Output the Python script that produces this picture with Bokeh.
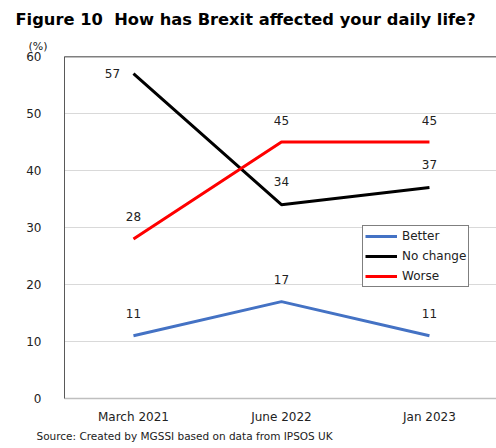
from bokeh.plotting import figure
from bokeh.models import Range1d, Span, Legend, LegendItem, FixedTicker, ColumnDataSource, Title
from bokeh.core.properties import value
from bokeh.embed import file_html
from bokeh.resources import INLINE

periods = ["March 2021", "June 2022", "Jan 2023"]
better = [11, 17, 11]
no_change = [57, 34, 37]
worse = [28, 45, 45]
y_ticks = [0, 10, 20, 30, 40, 50, 60]

xs = list(range(len(periods)))
FONT = "DejaVu Sans"

p = figure(width=496, height=448, output_backend="svg", toolbar_location=None,
           x_range=Range1d(-0.466, 2.453), y_range=Range1d(0, 60),
           min_border_left=64, min_border_right=0, min_border_top=56, min_border_bottom=50)
p.outline_line_color = None
p.background_fill_color = "white"
p.border_fill_color = "white"

p.xgrid.visible = False
p.ygrid.grid_line_color = "#d9d9d9"
p.ygrid.ticker = FixedTicker(ticks=y_ticks)

p.yaxis.ticker = FixedTicker(ticks=y_ticks)
p.yaxis.axis_line_color = "#595959"
p.yaxis.major_tick_line_color = None
p.yaxis.minor_tick_line_color = None
p.yaxis.major_label_standoff = 17
p.yaxis.major_label_text_font = FONT
p.yaxis.major_label_text_font_size = "12px"
p.yaxis.major_label_text_color = "#222222"

p.xaxis.ticker = FixedTicker(ticks=xs)
p.xaxis.major_label_overrides = {i: s for i, s in enumerate(periods)}
p.xaxis.axis_line_color = "#bfbfbf"
p.xaxis.axis_line_width = 1.5
p.xaxis.major_tick_line_color = None
p.xaxis.minor_tick_line_color = None
p.xaxis.major_label_standoff = 5
p.xaxis.major_label_text_font = FONT
p.xaxis.major_label_text_font_size = "12px"
p.xaxis.major_label_text_color = "#222222"

p.add_layout(Span(location=60, dimension="width", line_color="black", line_width=1.5))

series = [("Better", better, "#4472C4"), ("No change", no_change, "#000000"), ("Worse", worse, "#FF0000")]
items = []
for name, vals, color in series:
    r = p.line(xs, vals, line_color=color, line_width=3)
    items.append(LegendItem(label=name, renderers=[r]))

def add_labels(vals, offsets_x, offsets_y):
    src = ColumnDataSource(dict(x=xs, y=vals, t=[str(v) for v in vals], ox=offsets_x, oy=offsets_y))
    p.text(x="x", y="y", text="t", source=src, x_offset="ox", y_offset="oy",
           text_align="center", text_baseline="middle", text_font=value(FONT),
           text_font_size="12px", text_color="#222222")

add_labels(better, [0, 0, 0], [-22, -22, -22])
add_labels(no_change, [-21, 0, 0], [0, -23, -23])
add_labels(worse, [0, 0, 0], [-22, -22, -22])

legend = Legend(items=items, location=(298, 111), orientation="vertical")
legend.border_line_color = "black"
legend.border_line_width = 1
legend.background_fill_color = "white"
legend.background_fill_alpha = 1
legend.padding = 2
legend.spacing = 4
legend.margin = 0
legend.glyph_width = 32
legend.glyph_height = 16
legend.label_height = 16
legend.label_width = 62
legend.label_standoff = 5
legend.label_text_font = FONT
legend.label_text_font_size = "12px"
legend.label_text_color = "#222222"
p.add_layout(legend, "center")

# main title (outer) and unit label (closest to frame)
p.title = Title(text="Figure 10\u00a0 How has Brexit affected your daily life?", align="left", offset=-49,
                text_font=FONT, text_font_size="16.3px", text_font_style="bold",
                text_color="black", standoff=10)
p.add_layout(Title(text="(%)", align="left", offset=-36, text_font=FONT, text_font_size="11px",
                   text_font_style="normal", text_color="#222222", standoff=8), "above")
p.add_layout(Title(text="Source: Created by MGSSI based on data from IPSOS UK", align="left", offset=-28,
                   text_font=FONT, text_font_size="10.5px", text_font_style="normal",
                   text_color="#222222", standoff=3), "below")

open("out.html", "w").write(file_html(p, INLINE))
